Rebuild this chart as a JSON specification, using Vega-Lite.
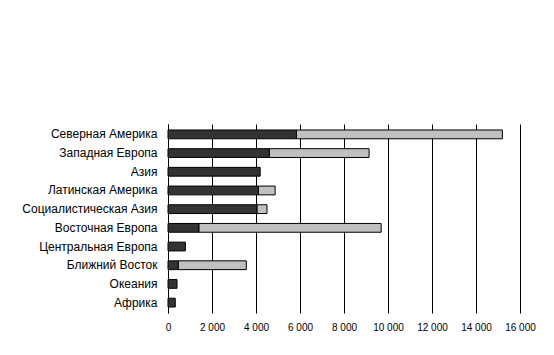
{
  "$schema": "https://vega.github.io/schema/vega-lite/v6.json",
  "autosize": "none",
  "width": 352,
  "height": 189,
  "padding": {"left": 168, "top": 124, "right": 34, "bottom": 42},
  "background": "white",
  "config": {
    "view": {"stroke": null},
    "font": "Liberation Sans"
  },
  "data": {
    "values": [
      {"region": "Северная Америка", "series": "a", "value": 5840},
      {"region": "Северная Америка", "series": "b", "value": 9360},
      {"region": "Западная Европа", "series": "a", "value": 4610},
      {"region": "Западная Европа", "series": "b", "value": 4530},
      {"region": "Азия", "series": "a", "value": 4190},
      {"region": "Латинская Америка", "series": "a", "value": 4110},
      {"region": "Латинская Америка", "series": "b", "value": 760},
      {"region": "Социалистическая Азия", "series": "a", "value": 4050},
      {"region": "Социалистическая Азия", "series": "b", "value": 450},
      {"region": "Восточная Европа", "series": "a", "value": 1410},
      {"region": "Восточная Европа", "series": "b", "value": 8280},
      {"region": "Центральная Европа", "series": "a", "value": 790},
      {"region": "Ближний Восток", "series": "a", "value": 470},
      {"region": "Ближний Восток", "series": "b", "value": 3090},
      {"region": "Океания", "series": "a", "value": 410},
      {"region": "Африка", "series": "a", "value": 330}
    ]
  },
  "mark": {"type": "bar", "stroke": "black", "strokeWidth": 1},
  "encoding": {
    "y": {
      "field": "region",
      "type": "nominal",
      "sort": null,
      "title": null,
      "scale": {"paddingInner": 0.53, "paddingOuter": 0.32},
      "axis": {
        "domain": true,
        "domainColor": "black",
        "ticks": false,
        "labelPadding": 11,
        "labelFontSize": 12,
        "labelColor": "black",
        "grid": false
      }
    },
    "x": {
      "field": "value",
      "type": "quantitative",
      "stack": "zero",
      "title": null,
      "scale": {"domain": [0, 16000], "nice": false},
      "axis": {
        "values": [0, 2000, 4000, 6000, 8000, 10000, 12000, 14000, 16000],
        "labelExpr": "replace(format(datum.value, ','), ',', ' ')",
        "domain": false,
        "ticks": false,
        "grid": true,
        "gridColor": "black",
        "gridOpacity": 1,
        "gridWidth": 1,
        "labelPadding": 9,
        "labelFontSize": 10,
        "labelColor": "black",
        "labelFlush": false
      }
    },
    "color": {
      "field": "series",
      "type": "nominal",
      "scale": {"domain": ["a", "b"], "range": ["#333333", "#c0c0c0"]},
      "legend": null
    },
    "order": {"field": "series", "sort": "ascending"}
  }
}
